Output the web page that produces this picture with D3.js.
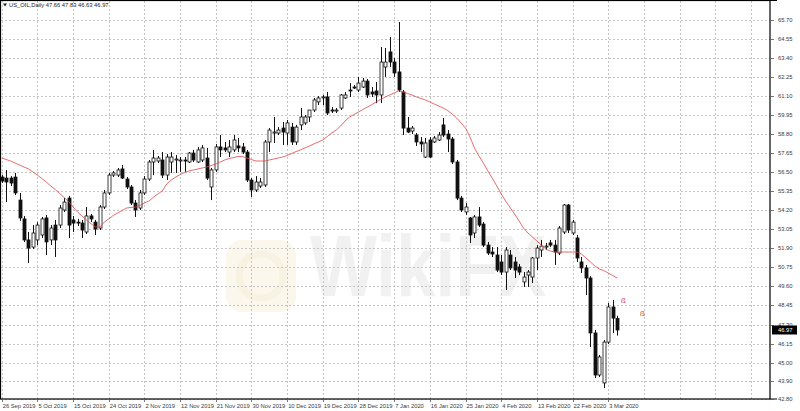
<!DOCTYPE html>
<html>
<head>
<meta charset="utf-8">
<script src="https://d3js.org/d3.v7.min.js"></script>
<style>
  html, body { margin: 0; padding: 0; background: #fff; }
  svg { display: block; }
</style>
</head>
<body>
<svg id="chart"></svg>
<script>
const width = 800, height = 411;
const plotLeft = 1, plotTop = 1, plotRight = 770, plotBottom = 399;
const font_family = "'Liberation Sans', Arial, sans-serif";
const text_color = "#3a3a3a", grid_color = "#c4c4c4", ma_color = "#e04646";

// bars: Mon-Sat daily candles, 26 Sep 2019 .. 5 Mar 2020
const barDates = d3.timeDay.range(new Date(2019, 8, 26), new Date(2020, 2, 6))
  .filter(d => d.getDay() !== 0);

const openVals = [
  56.21,56.15,56.15,56.21,54.82,53.68,52.41,51.98,52.41,52.71,
  53.74,52.41,53.31,53.31,54.22,54.94,53.62,53.49,53.43,52.89,
  53.86,53.49,53.13,54.40,55.25,56.33,56.33,56.70,56.09,55.61,
  54.64,54.34,55.25,56.09,57.12,57.18,57.24,56.33,57.12,57.24,
  57.24,57.24,57.12,57.66,57.12,57.24,57.36,55.61,56.64,58.03,
  57.97,57.72,57.85,58.09,58.03,57.72,56.03,55.43,55.67,55.73,
  58.33,58.87,58.87,59.17,58.87,59.23,58.33,59.36,59.48,59.84,
  60.26,60.75,60.99,61.05,60.26,60.20,60.38,60.99,61.47,61.65,
  61.47,61.65,62.01,61.35,61.41,61.17,62.86,63.77,63.16,62.56,
  61.35,59.17,58.99,58.75,58.33,57.42,58.45,58.33,58.45,59.36,
  58.81,58.51,57.12,54.94,54.10,53.74,52.83,53.80,53.37,52.10,
  51.68,51.50,51.08,50.47,51.50,51.08,50.78,49.87,50.29,50.17,
  51.32,51.80,51.98,52.23,52.10,51.62,52.89,54.52,52.83,52.53,
  51.08,50.72,50.11,46.79,44.25,43.77,46.24,48.36,47.66];

const highVals = [
  56.33,56.64,56.27,56.46,55.25,53.86,52.89,53.31,53.49,53.80,
  53.92,53.31,53.62,54.52,54.94,55.07,53.86,53.68,53.62,54.40,
  53.98,53.62,54.52,55.43,56.46,56.58,56.76,56.94,56.21,55.73,
  54.82,55.43,56.27,57.24,57.85,57.48,57.72,57.60,57.72,57.54,
  57.42,57.42,57.72,57.85,58.03,58.15,57.97,56.76,58.21,58.75,
  58.33,58.45,58.75,58.57,58.27,57.85,56.15,56.27,56.15,58.45,
  59.17,59.84,59.23,59.54,59.66,59.48,59.36,60.38,59.96,60.26,
  60.99,61.11,61.17,61.35,60.44,60.38,61.23,61.35,61.89,61.77,
  62.26,62.20,62.14,61.65,61.95,64.07,64.01,64.67,63.40,65.58,
  61.47,59.84,59.30,58.87,58.63,58.57,58.63,58.69,58.93,59.78,
  59.05,58.63,57.24,55.07,54.64,53.80,53.92,54.40,53.49,52.29,
  51.98,51.98,51.50,51.98,51.80,51.38,50.96,50.47,50.59,51.38,
  52.10,52.41,52.23,52.41,52.41,53.25,54.58,54.58,53.62,52.71,
  51.38,50.90,50.23,46.97,45.46,46.36,48.60,48.78,47.83];

const lowVals = [
  55.85,54.70,55.67,55.13,53.56,52.29,51.02,51.86,52.10,52.53,
  51.50,52.10,51.38,53.13,54.10,52.53,52.89,53.25,52.53,52.77,
  53.49,52.71,53.01,54.28,55.13,56.21,56.21,56.09,55.49,54.52,
  53.80,54.22,55.13,55.97,56.33,57.06,56.15,56.03,56.46,56.46,
  56.52,56.52,57.06,57.12,57.06,57.12,56.03,54.82,56.52,57.42,
  57.72,57.42,57.72,57.72,57.60,55.91,55.01,55.31,55.55,55.61,
  57.72,58.27,58.75,58.15,58.15,58.15,58.15,59.05,59.36,59.54,
  60.14,60.56,60.56,59.96,60.08,60.08,60.26,60.93,61.05,61.53,
  61.35,61.59,60.99,61.05,60.68,60.68,62.26,62.86,62.26,61.35,
  58.75,58.87,58.81,58.09,57.72,57.36,57.36,58.27,58.39,58.63,
  57.72,57.00,54.82,54.10,53.92,52.23,52.53,53.19,51.98,51.50,
  51.38,50.47,50.29,49.39,50.59,50.11,50.29,49.57,49.57,49.81,
  50.59,51.38,51.80,51.98,50.90,51.50,52.77,52.83,52.71,51.08,
  50.41,49.08,45.94,44.07,44.13,43.46,46.12,46.79,46.63];

const closeVals = [
  55.97,55.91,55.85,55.25,53.74,52.41,51.92,52.83,53.31,53.68,
  52.29,53.13,52.41,54.34,54.70,53.31,53.43,53.43,53.01,53.86,
  53.68,53.07,54.40,55.25,56.33,56.46,56.64,56.15,55.61,54.64,
  54.22,55.25,56.09,57.12,57.36,57.36,56.33,57.42,57.42,57.30,
  57.24,57.18,57.66,57.24,57.85,57.97,56.15,56.64,58.03,57.85,
  57.85,58.03,58.45,57.97,57.72,56.03,55.43,55.91,55.91,58.33,
  59.05,58.93,59.05,58.93,59.48,58.33,59.23,59.84,59.84,60.26,
  60.87,60.99,61.05,60.08,60.20,60.26,61.17,61.17,61.41,61.59,
  61.89,62.01,61.17,61.23,61.17,63.16,63.16,63.16,62.50,61.47,
  59.17,58.93,59.17,58.33,58.21,58.27,57.42,58.57,58.75,58.75,
  58.51,57.12,54.94,54.22,54.40,52.71,53.80,53.31,52.10,51.62,
  51.56,50.59,50.47,51.80,50.72,50.59,50.47,50.17,50.47,51.32,
  51.92,52.04,52.04,52.10,51.68,53.13,54.52,53.01,53.49,51.32,
  50.72,50.11,46.79,44.25,45.34,46.24,48.36,47.69,46.97];

// moving average line
const maVals = [
  57.36,57.27,57.18,57.06,56.94,56.82,56.70,56.52,56.33,56.12,
  55.91,55.67,55.46,55.22,54.98,54.73,54.40,54.10,53.86,53.62,
  53.40,53.19,53.19,53.49,53.68,53.89,54.04,54.19,54.34,54.37,
  54.40,54.49,54.64,54.76,54.98,55.19,55.37,55.79,56.03,56.21,
  56.36,56.49,56.58,56.64,56.70,56.76,56.82,56.91,57.00,57.12,
  57.24,57.33,57.39,57.45,57.45,57.36,57.27,57.18,57.18,57.18,
  57.24,57.30,57.36,57.42,57.51,57.63,57.75,57.85,57.97,58.09,
  58.21,58.33,58.45,58.66,58.87,59.05,59.30,59.60,59.84,59.99,
  60.14,60.29,60.44,60.59,60.75,60.90,61.05,61.17,61.29,61.41,
  61.35,61.26,61.17,61.05,60.96,60.87,60.75,60.62,60.50,60.38,
  60.23,60.02,59.78,59.48,59.17,58.63,57.97,57.48,57.06,56.58,
  56.15,55.67,55.19,54.76,54.37,53.98,53.56,53.13,52.83,52.59,
  52.35,52.10,51.86,51.74,51.68,51.68,51.68,51.68,51.68,51.68,
  51.56,51.32,51.08,50.84,50.65,50.56,50.41,50.26,50.11];

const priceTicks = ["65.70","64.55","63.40","62.25","61.10","59.95","58.80","57.65","56.50","55.35",
  "54.20","53.05","51.90","50.75","49.60","48.45","47.30","46.15","45.00","43.90","42.80"];
const dateTicks = ["26 Sep 2019","5 Oct 2019","15 Oct 2019","24 Oct 2019","2 Nov 2019","12 Nov 2019",
  "21 Nov 2019","30 Nov 2019","10 Dec 2019","19 Dec 2019","28 Dec 2019","7 Jan 2020",
  "16 Jan 2020","25 Jan 2020","4 Feb 2020","13 Feb 2020","22 Feb 2020","3 Mar 2020"];
const titleText = "US_OIL,Daily  47.66 47.83 46.63 46.97";
const lastPrice = 46.97;

const bars = barDates.map((d, i) => ({
  date: d, i,
  open: openVals[i], high: highVals[i], low: lowVals[i], close: closeVals[i], ma: maVals[i]
}));

const svg = d3.select("#chart").attr("width", width).attr("height", height);

// scales: one slot per bar, chart shifted leaving empty space on the right
const x = d3.scaleLinear().domain([0, 172.27]).range([1.7, plotRight]);
const y = d3.scaleLinear().domain([42.80, 65.70]).range([399, 20]);
const fmt = d3.timeFormat("%-d %b %Y");
const px = v => Math.round(v) + 0.5;

////////////////////////////////////
//         Watermark              //
////////////////////////////////////
const wm = svg.append("g").attr("opacity", 0.4);
wm.append("rect")
  .attr("x", 226).attr("y", 240).attr("width", 70).attr("height", 72)
  .attr("rx", 16).attr("fill", "#f6ecd2");
wm.append("circle").attr("cx", 261).attr("cy", 276).attr("r", 22)
  .attr("fill", "none").attr("stroke", "#efe0b8").attr("stroke-width", 7);
wm.append("text")
  .attr("x", 310).attr("y", 296)
  .attr("textLength", 236).attr("lengthAdjust", "spacingAndGlyphs")
  .attr("font-family", font_family).attr("font-weight", "bold")
  .attr("font-size", 88).attr("fill", "#dedede")
  .text("WikiFX");

////////////////////////////////////
//             Grid               //
////////////////////////////////////
const gridIdx = d3.range(0, 173, 8);
svg.append("g").selectAll("line").data(gridIdx).enter().append("line")
  .attr("x1", d => px(x(d))).attr("x2", d => px(x(d)))
  .attr("y1", plotTop).attr("y2", plotBottom)
  .attr("stroke", grid_color).attr("stroke-width", 1).attr("stroke-dasharray", "2,2");

svg.append("g").selectAll("line").data(priceTicks).enter().append("line")
  .attr("x1", plotLeft).attr("x2", plotRight)
  .attr("y1", d => px(y(+d))).attr("y2", d => px(y(+d)))
  .attr("stroke", grid_color).attr("stroke-width", 1).attr("stroke-dasharray", "2,2");

////////////////////////////////////
//           Candles              //
////////////////////////////////////
const cg = svg.append("g");
cg.selectAll("line.wick").data(bars).enter().append("line")
  .attr("class", "wick")
  .attr("x1", d => px(x(d.i))).attr("x2", d => px(x(d.i)))
  .attr("y1", d => y(d.high)).attr("y2", d => y(d.low))
  .attr("stroke", "#111").attr("stroke-width", 1);

cg.selectAll("rect.body").data(bars).enter().append("rect")
  .attr("class", "body")
  .attr("x", d => Math.round(x(d.i)) - 1)
  .attr("y", d => y(Math.max(d.open, d.close)))
  .attr("width", 3)
  .attr("height", d => Math.max(1, Math.abs(y(d.open) - y(d.close))))
  .attr("fill", d => d.close >= d.open ? "#fff" : "#111")
  .attr("stroke", "#111").attr("stroke-width", 0.8);

////////////////////////////////////
//         Moving average         //
////////////////////////////////////
const maLine = d3.line().x(d => x(d.i)).y(d => y(d.ma));
svg.append("path").datum(bars)
  .attr("d", maLine)
  .attr("fill", "none").attr("stroke", ma_color).attr("stroke-width", 0.8);

// small red objects drawn after the last bar
svg.append("text").attr("x", 621).attr("y", 303)
  .attr("font-family", font_family).attr("font-size", 8).attr("fill", "#d83a3a").text("ß");
svg.append("text").attr("x", 640).attr("y", 316)
  .attr("font-family", font_family).attr("font-size", 8).attr("fill", "#d83a3a").text("ß");

////////////////////////////////////
//           Frame & axes         //
////////////////////////////////////
svg.append("rect")
  .attr("x", plotLeft - 0.5).attr("y", plotTop - 0.5)
  .attr("width", plotRight - plotLeft + 0.5).attr("height", plotBottom - plotTop + 0.5)
  .attr("fill", "none").attr("stroke", "#000").attr("stroke-width", 1.2);
svg.append("line").attr("x1", plotRight).attr("x2", 777)
  .attr("y1", plotTop - 0.5).attr("y2", plotTop - 0.5).attr("stroke", "#000");
svg.append("line").attr("x1", plotRight).attr("x2", 777)
  .attr("y1", plotBottom).attr("y2", plotBottom).attr("stroke", "#000");

// price axis
const pa = svg.append("g");
pa.selectAll("line").data(priceTicks).enter().append("line")
  .attr("x1", plotRight).attr("x2", plotRight + 4)
  .attr("y1", d => px(y(+d))).attr("y2", d => px(y(+d)))
  .attr("stroke", "#555").attr("stroke-width", 0.8);
pa.selectAll("text").data(priceTicks).enter().append("text")
  .attr("x", 778).attr("y", d => y(+d) + 2)
  .attr("font-family", font_family).attr("font-size", 5.8)
  .attr("fill", text_color).text(d => d);

// last price marker
svg.append("rect").attr("x", 772).attr("y", y(lastPrice) - 4.5)
  .attr("width", 25).attr("height", 9).attr("fill", "#000");
svg.append("text").attr("x", 778).attr("y", y(lastPrice) + 2)
  .attr("font-family", font_family).attr("font-size", 5.8)
  .attr("fill", "#fff").text(lastPrice.toFixed(2));

// date axis
const dateIdx = dateTicks.map(lbl => barDates.findIndex(d => fmt(d) === lbl));
const da = svg.append("g");
da.selectAll("line").data(dateIdx).enter().append("line")
  .attr("x1", d => px(x(d))).attr("x2", d => px(x(d)))
  .attr("y1", plotBottom).attr("y2", plotBottom + 3)
  .attr("stroke", "#555").attr("stroke-width", 0.8);
da.selectAll("text").data(dateTicks).enter().append("text")
  .attr("x", (d, k) => x(dateIdx[k]) + 1)
  .attr("y", 407.5)
  .attr("font-family", font_family).attr("font-size", 5.8)
  .attr("fill", text_color).text(d => d);

// title
svg.append("path").attr("d", "M3,3.5 L7,3.5 L5,6.5 Z").attr("fill", "#222");
svg.append("text").attr("x", 9).attr("y", 7)
  .attr("font-family", font_family).attr("font-size", 5.8)
  .attr("fill", "#222").text(titleText);
</script>
</body>
</html>
